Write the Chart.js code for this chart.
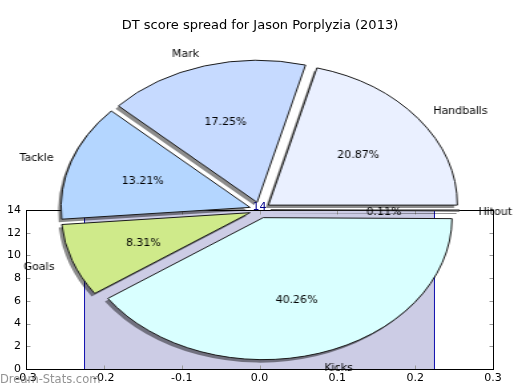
<!DOCTYPE html>
<html>
<head>
<meta charset="utf-8">
<script src="https://cdn.jsdelivr.net/npm/chart.js@4.4.0/dist/chart.umd.min.js"></script>
<style>
    html, body { margin: 0; padding: 0; background: #fff; }
    #wrap { position: relative; width: 520px; height: 390px; overflow: hidden; }
    #base { position: absolute; left: 0; top: 0; }
    .pieBox { position: absolute; width: 392px; height: 400px; }
</style>
</head>
<body>
<div id="wrap">
    <canvas id="base" width="520" height="390"></canvas>
    <div class="pieBox" id="shadowBox"><canvas id="pieShadow" width="392" height="400"></canvas></div>
    <div class="pieBox" id="pieBox"><canvas id="pie" width="392" height="400"></canvas></div>
</div>
<script>
const chartTitle = 'DT score spread for Jason Porplyzia (2013)';
const watermark = 'Dream-Stats.com';

// pie slices, in drawing order (clockwise from 3 o'clock)
const categories = ['Hitout', 'Kicks', 'Goals', 'Tackle', 'Mark', 'Handballs'];
const shares = [0.11, 40.26, 8.31, 13.21, 17.25, 20.87];
const sliceColors = ['#e4e4e4', '#d9ffff', '#cfea8a', '#b4d6ff', '#c6daff', '#eaf0ff'];

// the single bar underneath the pie
const barX = [0];
const barValues = [14];
const barEdges = [-0.225, 0.225];

const xTicks = [-0.3, -0.2, -0.1, 0.0, 0.1, 0.2, 0.3];
const yTicks = [0, 2, 4, 6, 8, 10, 12, 14];

// pie is squashed like the matplotlib axes it came from
const pieCenter = { x: 259.5, y: 210 };
const pieStretch = 1.33;
const pieRadius = 142;
const pieExplode = 8;
const shadowShift = { x: -3, y: 3 };

Chart.defaults.font.family = '"DejaVu Sans", sans-serif';
Chart.defaults.font.size = 11;
Chart.defaults.color = '#000';

function placeBox(id, dx, dy) {
    const box = document.getElementById(id);
    box.style.left = (pieCenter.x - 196 + dx) + 'px';
    box.style.top = (pieCenter.y - 200 + dy) + 'px';
    box.style.transform = 'scaleX(' + pieStretch + ')';
    box.style.transformOrigin = '196px 200px';
}
placeBox('shadowBox', shadowShift.x, shadowShift.y);
placeBox('pieBox', 0, 0);

// title, axes box, inward ticks, bar value, watermark
const framePlugin = {
    id: 'frame',
    afterDatasetsDraw(chart) {
        const { ctx, chartArea: a, scales: { x, y } } = chart;
        const L = Math.round(a.left) + 0.5, R = Math.round(a.right) + 0.5;
        const T = Math.round(a.top) + 0.5, B = Math.round(a.bottom) + 0.5;
        ctx.save();
        ctx.strokeStyle = '#9a9a9a';
        ctx.lineWidth = 1;
        ctx.beginPath();
        xTicks.forEach(v => {
            const px = Math.round(x.getPixelForValue(v)) + 0.5;
            ctx.moveTo(px, B); ctx.lineTo(px, B - 4);
            ctx.moveTo(px, T); ctx.lineTo(px, T + 4);
        });
        yTicks.forEach(v => {
            const py = Math.round(y.getPixelForValue(v)) + 0.5;
            ctx.moveTo(L, py); ctx.lineTo(L + 4, py);
            ctx.moveTo(R, py); ctx.lineTo(R - 4, py);
        });
        ctx.stroke();

        ctx.strokeStyle = '#000';
        ctx.strokeRect(L, T, R - L, B - T);

        ctx.fillStyle = '#00008b';
        ctx.font = '11px "DejaVu Sans"';
        ctx.textAlign = 'center';
        ctx.textBaseline = 'alphabetic';
        barX.forEach((v, i) => {
            ctx.fillText(String(barValues[i]), x.getPixelForValue(v), y.getPixelForValue(barValues[i]));
        });

        ctx.fillStyle = '#000';
        ctx.font = '13px "DejaVu Sans"';
        ctx.textBaseline = 'middle';
        ctx.fillText(chartTitle, chart.width / 2, 25.5);
        ctx.restore();
    },
    afterDraw(chart) {
        const ctx = chart.ctx;
        ctx.save();
        ctx.fillStyle = 'rgba(120, 120, 120, 0.8)';
        ctx.font = '11.5px "DejaVu Sans"';
        ctx.textAlign = 'left';
        ctx.textBaseline = 'middle';
        ctx.fillText(watermark, 0, 380);
        ctx.restore();
    }
};

const base = new Chart(document.getElementById('base'), {
    type: 'bar',
    data: {
        datasets: [{
            data: barX.map((v, i) => ({ x: v, y: barValues[i] })),
            backgroundColor: '#cccce5',
            borderColor: '#0000aa',
            borderWidth: 1,
            borderSkipped: 'bottom',
            barThickness: 300
        }]
    },
    options: {
        responsive: false,
        animation: false,
        events: [],
        layout: { padding: { left: 0, right: 27, top: 210, bottom: 0 } },
        plugins: {
            legend: { display: false },
            tooltip: { enabled: false },
            title: { display: false }
        },
        scales: {
            x: {
                type: 'linear',
                offset: false,
                min: -0.3,
                max: 0.3,
                afterBuildTicks: s => { s.ticks = xTicks.map(v => ({ value: v })); },
                afterFit: s => { s.height = 21; },
                ticks: { padding: 3, maxRotation: 0, callback: v => v.toFixed(1) },
                grid: { display: false, drawTicks: false },
                border: { display: false }
            },
            y: {
                min: 0,
                max: 14,
                afterBuildTicks: s => { s.ticks = yTicks.map(v => ({ value: v })); },
                afterFit: s => { s.width = 26; },
                ticks: { padding: 5 },
                grid: { display: false, drawTicks: false },
                border: { display: false }
            }
        }
    },
    plugins: [framePlugin]
});

// bar width follows its data-unit edges on the x scale
const xs = base.scales.x;
base.data.datasets[0].barThickness = xs.getPixelForValue(barEdges[1]) - xs.getPixelForValue(barEdges[0]);
base.update('none');

// push every wedge out along its middle angle (matplotlib "explode")
const explodePlugin = {
    id: 'explode',
    afterDatasetUpdate(chart, args) {
        args.meta.data.forEach(arc => {
            const mid = (arc.startAngle + arc.endAngle) / 2;
            arc.x += Math.cos(mid) * pieExplode;
            arc.y += Math.sin(mid) * pieExplode;
        });
    }
};

// category names outside, percentages inside; text drawn un-stretched
const pieLabelPlugin = {
    id: 'pieLabels',
    afterDraw(chart) {
        const ctx = chart.ctx;
        const arcs = chart.getDatasetMeta(0).data;
        ctx.save();
        ctx.fillStyle = '#000';
        ctx.font = '11px "DejaVu Sans"';
        ctx.textBaseline = 'middle';
        arcs.forEach((arc, i) => {
            const mid = (arc.startAngle + arc.endAngle) / 2;
            const c = Math.cos(mid), s = Math.sin(mid);
            const put = (text, r, align) => {
                ctx.save();
                ctx.translate(arc.x + c * r, arc.y + s * r + 1.5);
                ctx.scale(1 / pieStretch, 1);
                ctx.textAlign = align;
                ctx.fillText(text, 0, 0);
                ctx.restore();
            };
            put(categories[i], arc.outerRadius * 1.1, c > 0 ? 'left' : 'right');
            put(shares[i].toFixed(2) + '%', arc.outerRadius * 0.6, 'center');
        });
        ctx.restore();
    }
};

function makePie(canvasId, colors, borderWidth, extraPlugins) {
    return new Chart(document.getElementById(canvasId), {
        type: 'pie',
        data: {
            labels: categories,
            datasets: [{
                data: shares,
                backgroundColor: colors,
                borderColor: '#1a1a1a',
                borderWidth: borderWidth
            }]
        },
        options: {
            responsive: false,
            animation: false,
            events: [],
            rotation: 90,
            radius: pieRadius,
            layout: { padding: 0 },
            plugins: { legend: { display: false }, tooltip: { enabled: false } }
        },
        plugins: [explodePlugin].concat(extraPlugins)
    });
}

// grey copy underneath acts as the drop shadow
makePie('pieShadow', categories.map(() => 'rgba(0, 0, 0, 0.45)'), 0, []);
makePie('pie', sliceColors, 1, [pieLabelPlugin]);
</script>
</body>
</html>
